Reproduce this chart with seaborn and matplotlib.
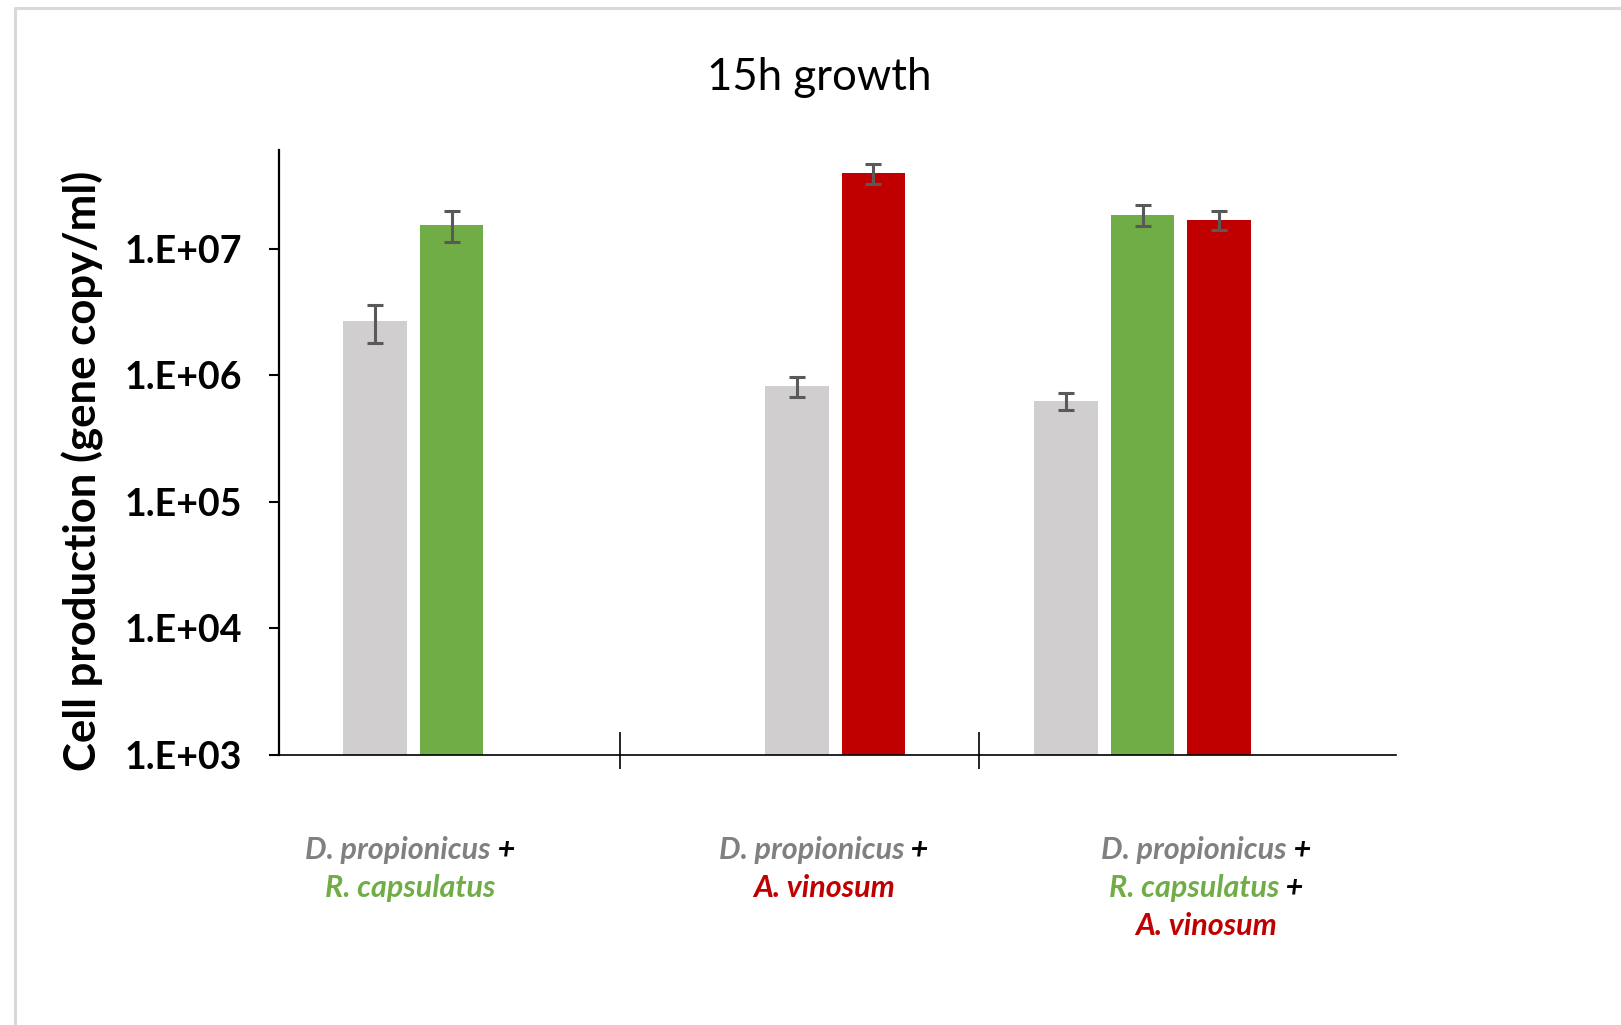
import matplotlib
matplotlib.use("Agg")
import matplotlib.pyplot as plt
from matplotlib.lines import Line2D
from matplotlib.ticker import NullLocator, FixedLocator
import seaborn as sns
import pandas as pd

# Gene-copy counts after 15 h of growth, one bar per organism within each co-culture
organisms = ["D. propionicus", "R. capsulatus",
             "D. propionicus", "A. vinosum",
             "D. propionicus", "R. capsulatus", "A. vinosum"]
culture_index = [0, 0, 1, 1, 2, 2, 2]
slot_in_culture = [0, 1, 0, 1, 0, 1, 2]
gene_copies = [2.7e6, 1.55e7, 8.2e5, 3.95e7, 6.3e5, 1.85e7, 1.7e7]
gene_copies_err = [0.9e6, 0.43e7, 1.5e5, 0.7e7, 1.0e5, 0.35e7, 0.29e7]

# Category labels, split into coloured pieces per line
culture_labels = [
    [[("D. propionicus", "#808080"), (" +", "black")],
     [("R. capsulatus", "#70AD47")]],
    [[("D. propionicus", "#808080"), (" +", "black")],
     [("A. vinosum", "#C00000")]],
    [[("D. propionicus", "#808080"), (" +", "black")],
     [("R. capsulatus", "#70AD47"), (" +", "black")],
     [("A. vinosum", "#C00000")]],
]
ytick_values = [1e3, 1e4, 1e5, 1e6, 1e7]
ytick_labels = ["1.E+03", "1.E+04", "1.E+05", "1.E+06", "1.E+07"]

palette = {"D. propionicus": "#D0CECE", "R. capsulatus": "#70AD47", "A. vinosum": "#C00000"}

# Layout of the bar slots along the category axis
culture_start = [0.0, 5.51, 9.03]
culture_label_x = [0.46, 5.86, 10.86]
separators = [3.203, 7.892]
positions = [culture_start[g] + s for g, s in zip(culture_index, slot_in_culture)]

df = pd.DataFrame({"pos": positions, "organism": organisms, "copies": gene_copies})

sns.set_theme(style="white")
plt.rcParams["font.family"] = ["Lato", "DejaVu Sans"]

fig = plt.figure(figsize=(16.21, 10.25), dpi=100)
ax = fig.add_axes([279 / 1621, 1 - 755 / 1025, (1396 - 279) / 1621, (755 - 150) / 1025])

sns.barplot(data=df, x="pos", y="copies", hue="organism", palette=palette,
            native_scale=True, dodge=False, width=0.83, errorbar=None,
            saturation=1, legend=False, edgecolor="none", linewidth=0, ax=ax)
ax.errorbar(df["pos"], df["copies"], yerr=gene_copies_err, fmt="none",
            ecolor="#595959", elinewidth=2.2, capsize=5.5, capthick=2.2, zorder=5)

ax.set_yscale("log")
ax.set_ylim(1e3, 10 ** 7.78)
ax.set_xlim(-1.257, 13.34)
ax.yaxis.set_major_locator(FixedLocator(ytick_values))
ax.yaxis.set_minor_locator(NullLocator())
ax.set_yticklabels(ytick_labels, fontsize=27, fontweight="bold", color="black")
ax.tick_params(axis="y", which="major", direction="out", length=7.5, width=1.5,
               color="black", pad=19, left=True)

# Category separators crossing the baseline
ax.xaxis.remove_overlapping_locs = False
ax.xaxis.set_major_locator(FixedLocator(separators))
ax.xaxis.set_minor_locator(FixedLocator(separators))
ax.tick_params(axis="x", which="major", direction="in", length=16.5, width=1.2,
               color="black", labelbottom=False, bottom=True)
ax.tick_params(axis="x", which="minor", direction="out", length=10, width=1.2,
               color="black", labelbottom=False, bottom=True)
ax.set_xlabel("")

for side in ["top", "right"]:
    ax.spines[side].set_visible(False)
ax.spines["left"].set_color("black")
ax.spines["left"].set_linewidth(1.6)
ax.spines["bottom"].set_color("black")
ax.spines["bottom"].set_linewidth(1.2)

ax.set_ylabel("Cell production (gene copy/ml)", fontsize=31.5, fontweight="bold", color="black")
ax.yaxis.set_label_coords(-0.157, 0.469)

fig.text(819 / 1621, 1 - 77 / 1025, "15h growth", fontsize=31.5, color="black",
         ha="center", va="center")

# Multi-coloured category labels below the axis
fig.canvas.draw()
renderer = fig.canvas.get_renderer()
line_y = [-0.157, -0.220, -0.283]
label_size = 22
trans = ax.get_xaxis_transform()
for xc, lines in zip(culture_label_x, culture_labels):
    for li, parts in enumerate(lines):
        widths = []
        for txt, col in parts:
            t = ax.text(0, 0, txt, fontsize=label_size, fontweight="bold", fontstyle="italic")
            widths.append(t.get_window_extent(renderer).width)
            t.remove()
        total = sum(widths)
        offset = -total / 2
        for (txt, col), w in zip(parts, widths):
            ax.annotate(txt, xy=(xc, line_y[li]), xycoords=trans,
                        xytext=(offset * 72 / fig.dpi, 0), textcoords="offset points",
                        ha="left", va="center", fontsize=label_size, fontweight="bold",
                        fontstyle="italic", color=col, annotation_clip=False)
            offset += w

# Light frame around the chart area
fig.add_artist(Line2D([15 / 1621, 1.0], [1 - 8 / 1025, 1 - 8 / 1025],
                      transform=fig.transFigure, color="#D9D9D9", linewidth=2.2))
fig.add_artist(Line2D([15 / 1621, 15 / 1621], [0.0, 1 - 8 / 1025],
                      transform=fig.transFigure, color="#D9D9D9", linewidth=2.2))

fig.savefig("out.png", dpi=100, facecolor="white")
